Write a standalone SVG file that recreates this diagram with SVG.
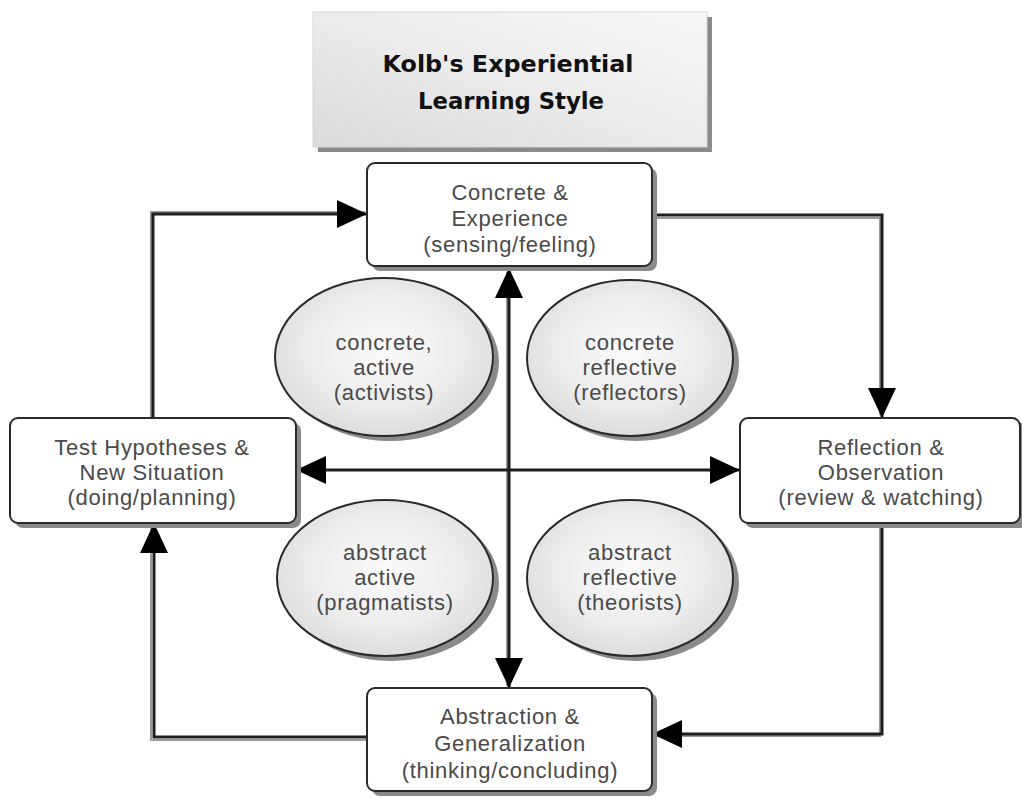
<svg xmlns="http://www.w3.org/2000/svg" width="1022" height="799" viewBox="0 0 1022 799">
<style>
.box{fill:#ffffff;stroke:#2a2a2a;stroke-width:2}
.shadow{fill:#8a8a8a}
.ell{fill:url(#ellGrad);stroke:#2a2a2a;stroke-width:2}
.lbl{font-family:"Liberation Sans",Arial,sans-serif;font-size:22px;letter-spacing:0.7px;fill:#4a4a4a;text-anchor:middle;dominant-baseline:central}
.title{font-family:"DejaVu Sans",sans-serif;font-weight:bold;font-size:23px;fill:#111;text-anchor:middle;dominant-baseline:central}
.conn{fill:none;stroke:#1e1e1e;stroke-width:3}
.connsh{fill:none;stroke:#9a9a9a;stroke-width:2}
</style>
<defs>
<radialGradient id="ellGrad" cx="0.5" cy="0.45" r="0.6">
<stop offset="0" stop-color="#fbfbfb"/>
<stop offset="0.6" stop-color="#ececec"/>
<stop offset="1" stop-color="#d9d9d9"/>
</radialGradient>
<linearGradient id="titleGrad" x1="0" y1="1" x2="1" y2="0">
<stop offset="0" stop-color="#dadada"/>
<stop offset="0.5" stop-color="#ececec"/>
<stop offset="1" stop-color="#f8f8f8"/>
</linearGradient>
<marker id="arr" markerUnits="userSpaceOnUse" viewBox="0 0 30 28" refX="30" refY="14" markerWidth="30" markerHeight="28" orient="auto-start-reverse">
<path d="M0,0 L30,14 L0,28 z" fill="#000"/>
</marker>
</defs>
<g id="title">
<rect class="shadow" x="318" y="17" width="394" height="135" fill="#6f6f6f"/>
<rect x="313" y="12" width="394" height="135" fill="url(#titleGrad)" stroke="#d6d6d6" stroke-width="1"/>
<text class="title" x="508" y="64" textLength="251" lengthAdjust="spacingAndGlyphs">Kolb's Experiential</text>
<text class="title" x="511" y="101" textLength="186" lengthAdjust="spacingAndGlyphs">Learning Style</text>
</g>
<g id="ellipse-concrete-active">
<ellipse class="shadow" cx="390" cy="362" rx="109" ry="79"/>
<ellipse class="ell" cx="384" cy="357" rx="109" ry="79"/>
<text class="lbl" x="384" y="342">concrete,</text>
<text class="lbl" x="384" y="367">active</text>
<text class="lbl" x="384" y="392">(activists)</text>
</g>
<g id="ellipse-concrete-reflective">
<ellipse class="shadow" cx="636" cy="363" rx="103" ry="78"/>
<ellipse class="ell" cx="630" cy="358" rx="103" ry="78"/>
<text class="lbl" x="630" y="342">concrete</text>
<text class="lbl" x="630" y="367">reflective</text>
<text class="lbl" x="630" y="392">(reflectors)</text>
</g>
<g id="ellipse-abstract-active">
<ellipse class="shadow" cx="391" cy="583" rx="108" ry="78"/>
<ellipse class="ell" cx="385" cy="578" rx="108" ry="78"/>
<text class="lbl" x="385" y="552">abstract</text>
<text class="lbl" x="385" y="577">active</text>
<text class="lbl" x="385" y="602">(pragmatists)</text>
</g>
<g id="ellipse-abstract-reflective">
<ellipse class="shadow" cx="636" cy="583" rx="103" ry="78"/>
<ellipse class="ell" cx="630" cy="578" rx="103" ry="78"/>
<text class="lbl" x="630" y="552">abstract</text>
<text class="lbl" x="630" y="577">reflective</text>
<text class="lbl" x="630" y="602">(theorists)</text>
</g>
<g id="connectors">
<path class="connsh" d="M151,418 V212 H365"/>
<path class="connsh" d="M652,218 H880 V415"/>
<path class="connsh" d="M880,526 V736 H655"/>
<path class="connsh" d="M367,740 H151 V526"/>
<path class="connsh" d="M507,272 V686"/>
<path class="conn" d="M153,418 V214 H367" marker-end="url(#arr)"/>
<path class="conn" d="M652,215 H882 V418" marker-end="url(#arr)"/>
<path class="conn" d="M882,523 V734 H652" marker-end="url(#arr)"/>
<path class="conn" d="M367,737 H154 V523" marker-end="url(#arr)"/>
<path class="conn" d="M509,268 V688" marker-start="url(#arr)" marker-end="url(#arr)"/>
<path class="conn" d="M296,470 H740" marker-start="url(#arr)" marker-end="url(#arr)"/>
</g>
<g id="node-concrete">
<rect class="shadow" x="372" y="168" width="285" height="103" rx="8"/>
<rect class="box" x="367" y="163" width="285" height="103" rx="8"/>
<text class="lbl" x="510" y="192">Concrete &amp;</text>
<text class="lbl" x="510" y="218">Experience</text>
<text class="lbl" x="510" y="244">(sensing/feeling)</text>
</g>
<g id="node-test">
<rect class="shadow" x="15" y="423" width="286" height="105" rx="8"/>
<rect class="box" x="10" y="418" width="286" height="105" rx="8"/>
<text class="lbl" x="152" y="447">Test Hypotheses &amp;</text>
<text class="lbl" x="152" y="472">New Situation</text>
<text class="lbl" x="152" y="497">(doing/planning)</text>
</g>
<g id="node-reflection">
<rect class="shadow" x="745" y="423" width="285" height="105" rx="8"/>
<rect class="box" x="740" y="418" width="280" height="105" rx="8"/>
<text class="lbl" x="881" y="447">Reflection &amp;</text>
<text class="lbl" x="881" y="472">Observation</text>
<text class="lbl" x="881" y="497">(review &amp; watching)</text>
</g>
<g id="node-abstraction">
<rect class="shadow" x="372" y="693" width="285" height="103" rx="8"/>
<rect class="box" x="367" y="688" width="285" height="103" rx="8"/>
<text class="lbl" x="510" y="716">Abstraction &amp;</text>
<text class="lbl" x="510" y="743">Generalization</text>
<text class="lbl" x="510" y="770">(thinking/concluding)</text>
</g>
</svg>
